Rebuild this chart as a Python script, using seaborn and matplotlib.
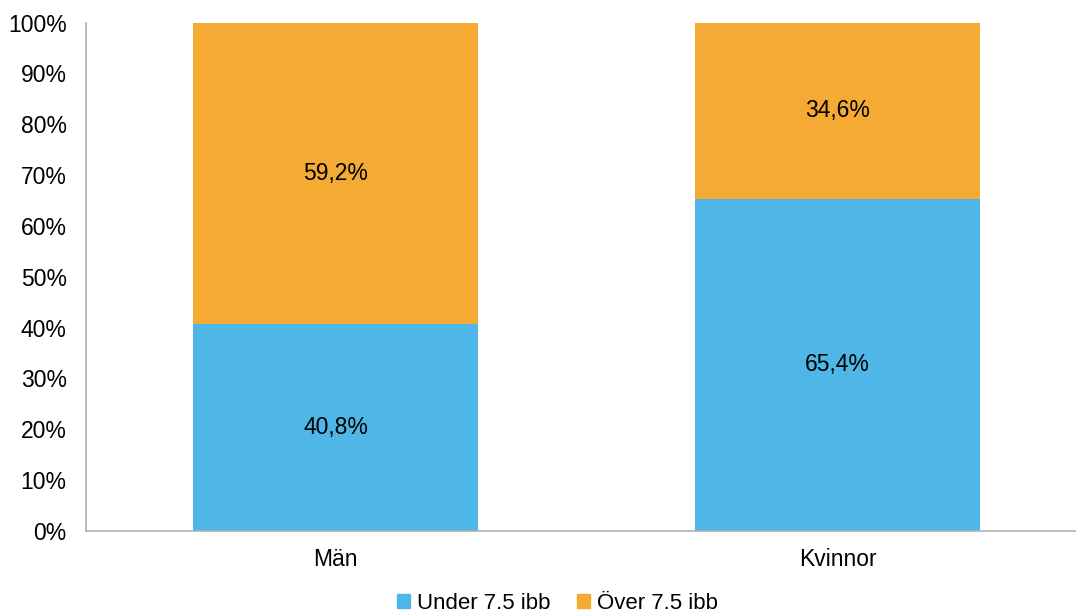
import pandas as pd
import numpy as np
import seaborn as sns
import matplotlib.pyplot as plt
from matplotlib.patches import Patch
from matplotlib.ticker import PercentFormatter

# data
kategorier = ['Män', 'Kvinnor']
under_75 = [40.8, 65.4]
over_75 = [59.2, 34.6]
serier = ['Under 7.5 ibb', 'Över 7.5 ibb']
farger = ['#4FB6E8', '#F4AA33']

df = pd.DataFrame({'Kön': kategorier, 'Under': under_75, 'Över': over_75})
df['Total'] = df['Under'] + df['Över']

sns.set_style('white')
plt.rcParams['font.family'] = ['Liberation Sans', 'DejaVu Sans']
plt.rcParams['text.color'] = 'black'

fig = plt.figure(figsize=(10.76, 6.13), dpi=100)
ax = fig.add_axes([0.08, 0.134, 0.92, 0.829])

# stapla: totalen först (orange), sedan undre delen (blå) ovanpå
sns.barplot(data=df, x='Kön', y='Total', color=farger[1], width=0.568, ax=ax,
            saturation=1, linewidth=0)
sns.barplot(data=df, x='Kön', y='Under', color=farger[0], width=0.568, ax=ax,
            saturation=1, linewidth=0)

for i, (u, o) in enumerate(zip(under_75, over_75)):
    ax.text(i, u / 2, f'{u:.1f}%'.replace('.', ','), ha='center', va='center', fontsize=16.5, color='black')
    ax.text(i, u + o / 2, f'{o:.1f}%'.replace('.', ','), ha='center', va='center', fontsize=16.5, color='black')

ax.set_ylim(0, 100)
ax.set_xlim(-0.497, 1.475)
ax.set_yticks(np.arange(0, 101, 10))
ax.yaxis.set_major_formatter(PercentFormatter(decimals=0))
ax.tick_params(axis='both', labelsize=16.5, length=0, labelcolor='black')
ax.tick_params(axis='y', pad=14)
ax.tick_params(axis='x', pad=12)
ax.set_xlabel('')
ax.set_ylabel('')
for s in ['top', 'right']:
    ax.spines[s].set_visible(False)
for s in ['left', 'bottom']:
    ax.spines[s].set_color('#B0B0B0')
    ax.spines[s].set_linewidth(1.2)

handles = [Patch(color=c, label=l) for c, l in zip(farger, serier)]
fig.legend(handles=handles, loc='center', bbox_to_anchor=(0.518, 0.016), ncol=2,
           frameon=False, fontsize=16, handlelength=0.6, handleheight=0.6,
           handletextpad=0.3, columnspacing=1.2, labelcolor='black')

plt.savefig('out.png', dpi=100)
